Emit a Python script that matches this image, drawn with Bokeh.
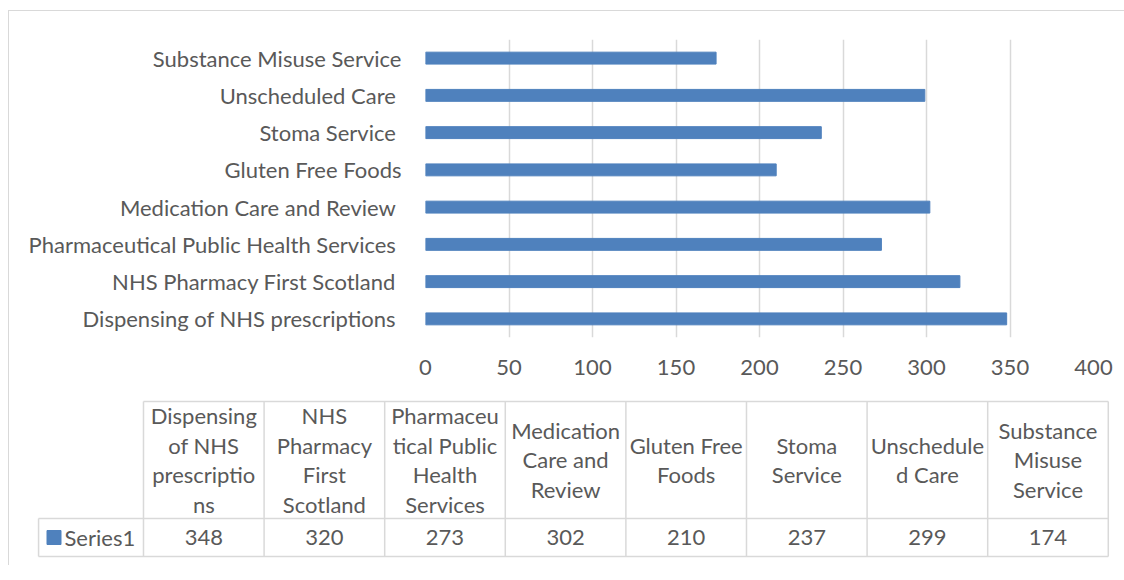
from bokeh.plotting import figure
from bokeh.layouts import column
from bokeh.models import Range1d, FactorRange
from bokeh.core.properties import value
from bokeh.embed import file_html
from bokeh.resources import INLINE

# ---- data ----
categories = [
    "Dispensing of NHS prescriptions ",
    "NHS Pharmacy First Scotland ",
    "Pharmaceutical Public Health Services ",
    "Medication Care and Review ",
    "Gluten Free Foods",
    "Stoma Service ",
    "Unscheduled Care ",
    "Substance Misuse Service",
]
values = [348, 320, 273, 302, 210, 237, 299, 174]
table_headers = [
    "Dispensing\nof NHS\nprescriptio\nns",
    "NHS\nPharmacy\nFirst\nScotland",
    "Pharmaceu\ntical Public\nHealth\nServices",
    "Medication\nCare and\nReview",
    "Gluten Free\nFoods",
    "Stoma\nService",
    "Unschedule\nd Care",
    "Substance\nMisuse\nService",
]
series_name = "Series1"
x_ticks = [0, 50, 100, 150, 200, 250, 300, 350, 400]

FONT = "Lato"
TXT = "#595959"
GRID = "#d9d9d9"
BLUE = "#4f81bd"
FS = 22
W = 1115

# ---- bar chart ----
p = figure(width=W, height=384, output_backend="svg", toolbar_location=None,
           y_range=FactorRange(*categories, range_padding=0),
           x_range=Range1d(0, 400),
           min_border_left=416, min_border_right=W - 416 - 668, min_border_top=28,
           min_border_bottom=58)
p.outline_line_color = None
p.frame_align = False
p.hbar(y=categories, right=values, left=0, height=0.32, color=BLUE)

p.xaxis.ticker = x_ticks
p.xaxis.axis_line_color = None
p.xaxis.major_tick_line_color = None
p.xaxis.major_tick_out = 0
p.xaxis.major_tick_in = 0
p.xaxis.minor_tick_line_color = None
p.xaxis.major_label_standoff = 22
p.xaxis.major_label_text_font = FONT
p.xaxis.major_label_text_font_size = f"{FS}px"
p.xaxis.major_label_text_color = TXT

p.yaxis.axis_line_color = None
p.yaxis.major_tick_line_color = None
p.yaxis.major_tick_out = 0
p.yaxis.major_tick_in = 0
p.yaxis.minor_tick_line_color = None
p.yaxis.major_label_standoff = 24
p.yaxis.major_label_text_font = FONT
p.yaxis.major_label_text_font_size = f"{FS}px"
p.yaxis.major_label_text_color = TXT

p.ygrid.grid_line_color = None
p.xgrid.grid_line_color = GRID
p.xgrid.grid_line_width = 1.5

# ---- data table ----
n = len(categories)
col_px = 120.6
x0 = -1.111
t = figure(width=W, height=170, output_backend="svg", toolbar_location=None,
           x_range=Range1d(x0, x0 + W / col_px), y_range=Range1d(170, 0),
           min_border=0)
t.outline_line_color = None
t.frame_align = False
t.axis.visible = False
t.grid.visible = False

top_y, mid_y, bot_y = 6, 123, 161
legend_left = -0.87
xs = list(range(n + 1))
t.segment(x0=xs, x1=xs, y0=[top_y] * (n + 1), y1=[bot_y] * (n + 1), color=GRID, line_width=1.5)
t.segment(x0=[legend_left], x1=[legend_left], y0=[mid_y], y1=[bot_y], color=GRID, line_width=1.5)
t.segment(x0=[0, legend_left, legend_left], x1=[n, n, n], y0=[top_y, mid_y, bot_y],
          y1=[top_y, mid_y, bot_y], color=GRID, line_width=1.5)

centers = [i + 0.5 for i in range(n)]
t.text(x=centers, y=[(top_y + mid_y) / 2] * n, text=table_headers,
       text_align="center", text_baseline="middle", text_font=value(FONT),
       text_font_size=f"{FS}px", text_color=TXT, text_line_height=29 / FS / 1.2)
t.text(x=centers, y=[(mid_y + bot_y) / 2] * n, text=[str(v) for v in values],
       text_align="center", text_baseline="middle", text_font=value(FONT),
       text_font_size=f"{FS}px", text_color=TXT)
t.scatter(x=[-0.742], y=[(mid_y + bot_y) / 2], marker="square", size=14,
          color=BLUE)
t.text(x=[-0.655], y=[(mid_y + bot_y) / 2], text=[series_name],
       text_align="left", text_baseline="middle", text_font=value(FONT),
       text_font_size=f"{FS}px", text_color=TXT)

layout = column(p, t, spacing=0,
                styles={"border-top": f"1px solid {GRID}", "border-left": f"1px solid {GRID}",
                        "margin-top": "10px", "margin-left": "8px"})

open("out.html", "w").write(file_html(layout, INLINE))
